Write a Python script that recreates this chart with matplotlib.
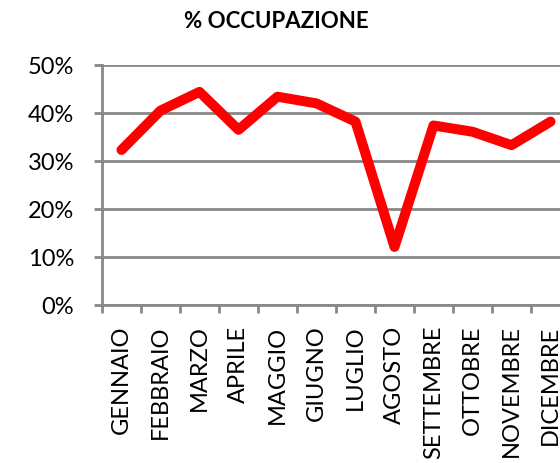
import matplotlib
matplotlib.use("Agg")
import matplotlib.pyplot as plt
from matplotlib.ticker import FuncFormatter, FixedLocator

months = ["GENNAIO", "FEBBRAIO", "MARZO", "APRILE", "MAGGIO", "GIUGNO",
          "LUGLIO", "AGOSTO", "SETTEMBRE", "OTTOBRE", "NOVEMBRE", "DICEMBRE"]
occupancy = [0.323, 0.405, 0.444, 0.365, 0.434, 0.420,
             0.382, 0.121, 0.374, 0.361, 0.333, 0.382]
y_ticks = [0.0, 0.1, 0.2, 0.3, 0.4, 0.5]

plt.rcParams['font.family'] = ['Lato', 'DejaVu Sans']

W, H = 560, 464
fig = plt.figure(figsize=(W / 100, H / 100), dpi=100)
left, right = 102, 570
top, bottom = 66, 306
ax = fig.add_axes([left / W, 1 - bottom / H, (right - left) / W, (bottom - top) / H])

x = list(range(len(months)))
ax.plot(x, occupancy, color="#ff0000", lw=7.2, solid_joinstyle="round",
        solid_capstyle="round", zorder=3, clip_on=False)

ax.set_xlim(-0.5, len(months) - 0.5)
ax.set_ylim(0, 0.5)
ax.yaxis.set_major_locator(FixedLocator(y_ticks))
ax.yaxis.set_major_formatter(FuncFormatter(lambda v, p: f"{v*100:.0f}%"))
ax.set_xticks([i + 0.5 for i in range(-1, len(months))], minor=False)
ax.set_xticklabels([])
ax.set_xticks(x, minor=True)
ax.set_xticklabels(months, minor=True, rotation=90, fontsize=17)
ax.tick_params(axis="x", which="minor", length=0, pad=14)
ax.tick_params(axis="x", which="major", length=6, width=2, color="#888888")
ax.tick_params(axis="y", length=6, width=2, color="#888888", labelsize=17, pad=14)

ax.grid(axis="y", color="#888888", lw=2)
for s in ["top", "right"]:
    ax.spines[s].set_visible(False)
for s in ["left", "bottom"]:
    ax.spines[s].set_color("#888888")
    ax.spines[s].set_linewidth(2)
ax.set_axisbelow(True)

fig.text(276 / W, 1 - 22 / H, "% OCCUPAZIONE", ha="center", va="center",
         fontsize=16, fontweight="bold")

fig.savefig("out.png", dpi=100)
